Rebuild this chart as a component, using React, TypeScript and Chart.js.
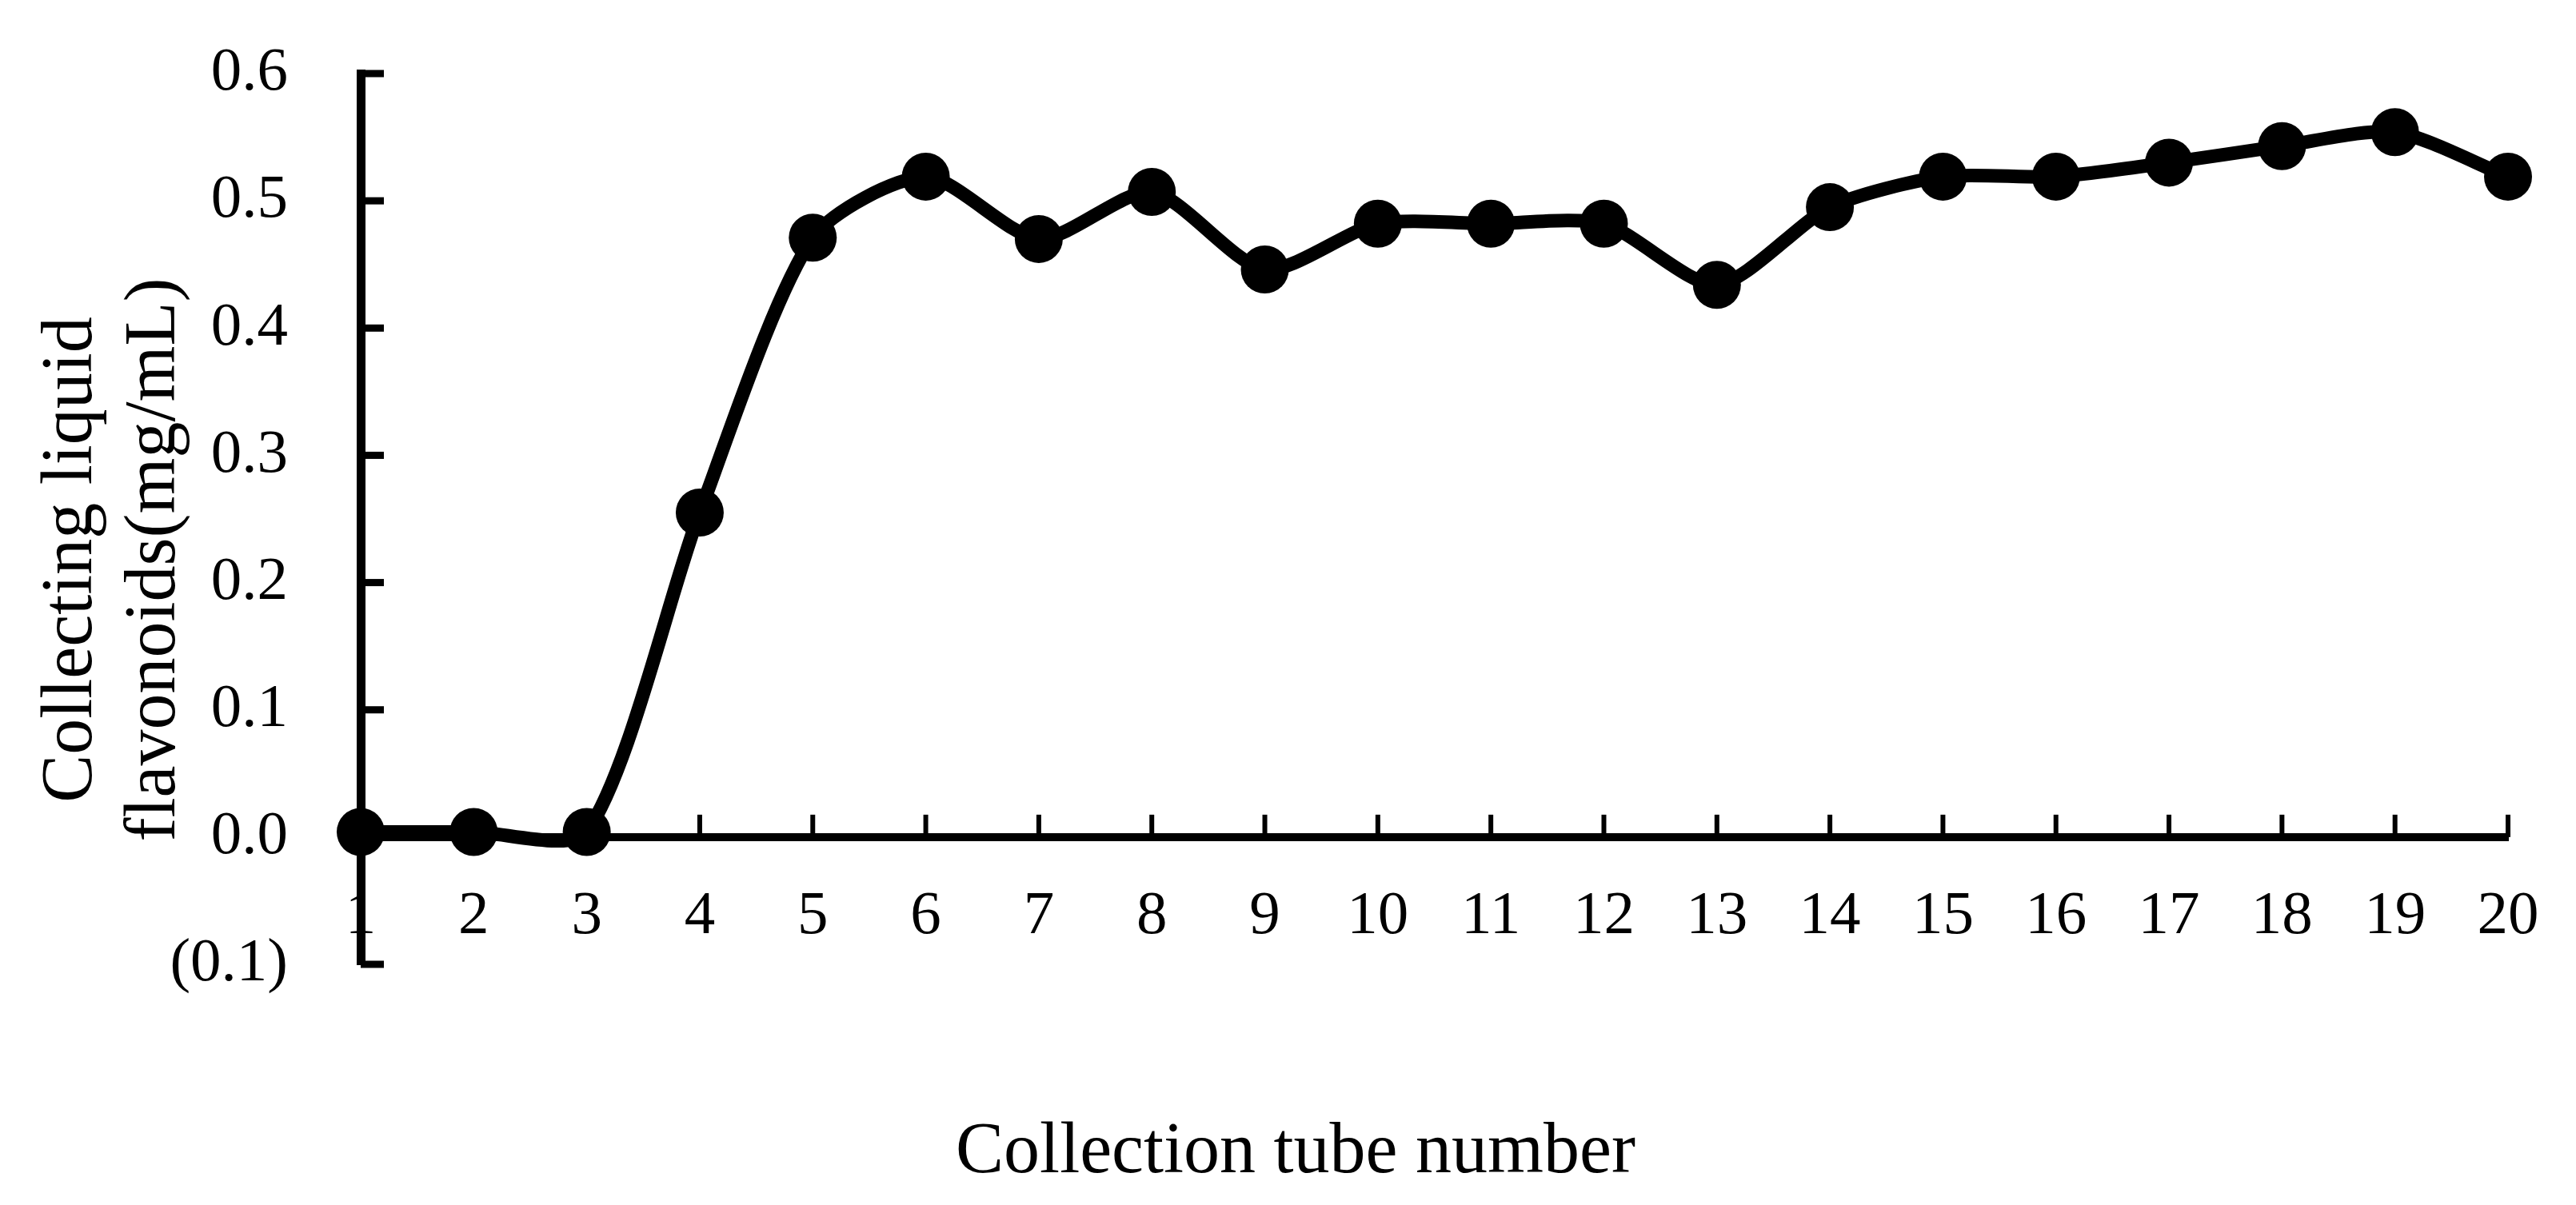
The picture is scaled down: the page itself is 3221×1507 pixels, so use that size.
import React, { useEffect, useRef } from 'react';
import { Chart, registerables } from 'chart.js';

Chart.register(...registerables);

const categories = ['1', '2', '3', '4', '5', '6', '7', '8', '9', '10', '11', '12', '13', '14', '15', '16', '17', '18', '19', '20'];
const flavonoids = [0.004, 0.004, 0.004, 0.255, 0.471, 0.519, 0.470, 0.507, 0.446, 0.482, 0.482, 0.482, 0.434, 0.495, 0.519, 0.519, 0.530, 0.543, 0.554, 0.519];
const yMin = -0.1;
const yMax = 0.6;
const yStep = 0.1;
const xTitle = 'Collection tube number';
const yTitleLines = ['Collecting liquid', 'flavonoids(mg/mL)'];

const FONT = '"Liberation Serif", "Times New Roman", serif';

const decorPlugin = {
  id: 'decor',
  beforeDatasetsDraw(chart: any) {
    const { ctx, chartArea } = chart;
    const x = chart.scales.x;
    const y = chart.scales.y;
    ctx.save();
    ctx.strokeStyle = '#000';
    ctx.lineCap = 'butt';
    ctx.lineWidth = 9;
    y.ticks.forEach((_t: any, i: number) => {
      const py = y.getPixelForTick(i);
      ctx.beginPath();
      ctx.moveTo(chartArea.left, py);
      ctx.lineTo(chartArea.left + 29, py);
      ctx.stroke();
    });
    const y0 = y.getPixelForValue(0);
    ctx.lineWidth = 6;
    x.ticks.forEach((_t: any, i: number) => {
      const px = x.getPixelForTick(i);
      ctx.beginPath();
      ctx.moveTo(px, y0);
      ctx.lineTo(px, y0 - 28);
      ctx.stroke();
    });
    ctx.restore();
  },
  afterDraw(chart: any) {
    const { ctx } = chart;
    ctx.save();
    ctx.fillStyle = '#000';
    ctx.font = `90px ${FONT}`;
    ctx.textAlign = 'center';
    ctx.textBaseline = 'alphabetic';
    ctx.fillText(xTitle, 1620, 1466);
    const baselines = [114, 218];
    yTitleLines.forEach((line, i) => {
      ctx.save();
      ctx.translate(baselines[i], 700);
      ctx.rotate(-Math.PI / 2);
      ctx.fillText(line, 0, 0);
      ctx.restore();
    });
    ctx.restore();
  },
};

function zeroPadding(scale: any) {
  scale.paddingLeft = 0;
  scale.paddingRight = 0;
  scale.paddingTop = 0;
  scale.paddingBottom = 0;
}

export default function App() {
  const canvasRef = useRef<HTMLCanvasElement | null>(null);

  useEffect(() => {
    document.body.style.margin = '0';
    const canvas = canvasRef.current;
    if (!canvas) return;
    const chart = new Chart(canvas, {
      type: 'line',
      data: {
        labels: categories,
        datasets: [
          {
            data: flavonoids,
            borderColor: '#000',
            borderWidth: 17,
            tension: 0.25,
            pointRadius: 30,
            pointHoverRadius: 30,
            pointBackgroundColor: '#000',
            pointBorderColor: '#000',
            pointBorderWidth: 0,
            clip: false as any,
            fill: false,
          },
        ],
      },
      options: {
        animation: false,
        responsive: false,
        devicePixelRatio: 1,
        events: [],
        layout: { padding: { top: 92, right: 85, bottom: 301, left: 0 } },
        plugins: {
          legend: { display: false },
          tooltip: { enabled: false },
        },
        scales: {
          x: {
            type: 'category',
            position: { y: 0 } as any,
            offset: false,
            grid: { display: true, drawOnChartArea: false, drawTicks: false },
            border: { display: true, color: '#000', width: 10 },
            ticks: {
              color: '#000',
              font: { family: FONT, size: 77, lineHeight: 1 },
              padding: 61,
              maxRotation: 0,
              minRotation: 0,
              autoSkip: false,
            },
            afterFit: zeroPadding,
          },
          y: {
            type: 'linear',
            position: 'left',
            min: yMin,
            max: yMax,
            grid: { display: true, drawOnChartArea: false, drawTicks: false },
            border: { display: true, color: '#000', width: 11 },
            ticks: {
              stepSize: yStep,
              color: '#000',
              font: { family: FONT, size: 77, lineHeight: 1 },
              padding: 91,
              callback: (v: any) => {
                const n = Number(v);
                return n < -1e-9 ? `(${Math.abs(n).toFixed(1)})` : Math.abs(n).toFixed(1);
              },
            },
            afterFit: (scale: any) => {
              zeroPadding(scale);
              scale.width = 451;
            },
          },
        },
      },
      plugins: [decorPlugin],
    });
    return () => chart.destroy();
  }, []);

  return (
    <canvas
      ref={canvasRef}
      width={3221}
      height={1507}
      style={{ display: 'block', width: 3221, height: 1507 }}
    />
  );
}
